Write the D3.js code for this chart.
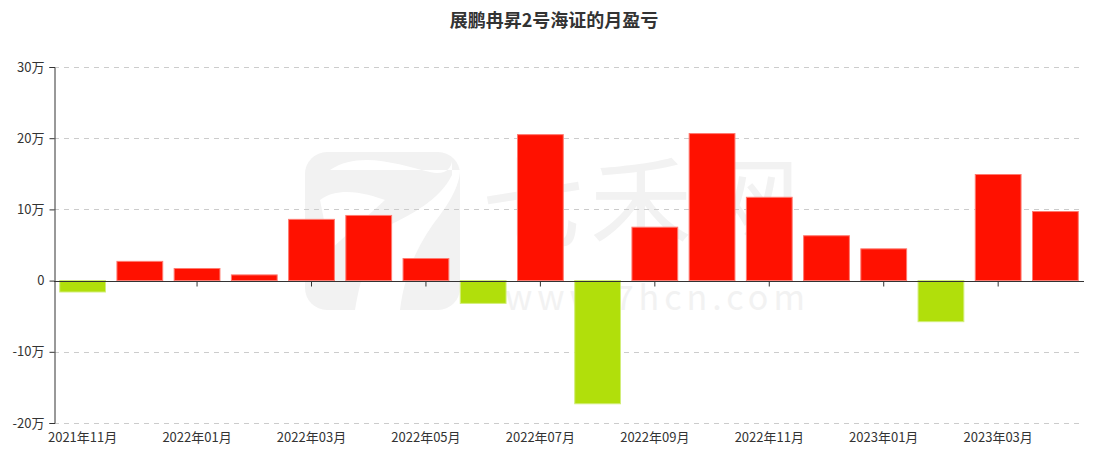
<!DOCTYPE html>
<html>
<head>
<meta charset="utf-8">
<script src="https://cdn.jsdelivr.net/npm/d3@7/dist/d3.min.js"></script>
<style>
  html, body { margin: 0; padding: 0; background: #fff; }
  svg { display: block; }
  text { font-family: "Noto Sans CJK SC", "Noto Sans", sans-serif; }
</style>
</head>
<body>
<svg id="chart" width="1097" height="455"></svg>
<script>
const title = "展鹏冉昇2号海证的月盈亏";
const months = ["2021年11月","2021年12月","2022年01月","2022年02月","2022年03月","2022年04月",
  "2022年05月","2022年06月","2022年07月","2022年08月","2022年09月","2022年10月",
  "2022年11月","2022年12月","2023年01月","2023年02月","2023年03月","2023年04月"];
const profit = [-16000, 27000, 17000, 8000, 86000, 91500, 31000, -32000, 205000, -173000,
  75000, 206500, 117000, 63000, 44600, -57700, 149000, 97000];
const yTicks = [-200000, -100000, 0, 100000, 200000, 300000];

const svg = d3.select("#chart");
const pLeft = 54, pRight = 1084, pTop = 67, pBottom = 423;

const x = d3.scaleBand().domain(months).range([pLeft, pRight]).paddingInner(0.2).paddingOuter(0.1);
const y = d3.scaleLinear().domain([-200000, 300000]).range([pBottom, pTop]);

// watermark
const wm = svg.append("g").attr("fill", "#f2f2f2");
wm.append("rect").attr("x", 305).attr("y", 152).attr("width", 155).attr("height", 158).attr("rx", 22);
wm.append("path").attr("fill", "#fff")
  .attr("d", "M330,170 C360,150 400,165 430,172 C445,176 452,168 452,160 L452,175 C440,200 410,215 390,225 C370,240 360,280 355,310 L400,310 C405,270 420,240 440,215 C455,195 460,180 460,170 Z M320,200 C340,185 370,195 385,200 L330,250 Z");
wm.append("text").attr("x", 482).attr("y", 242).attr("font-size", 102).attr("letter-spacing", 6).text("七禾网");
wm.append("text").attr("x", 505).attr("y", 310).attr("font-size", 34)
  .attr("font-family", "\"Liberation Sans\", sans-serif").attr("letter-spacing", 5).text("www.7hcn.com");

// gridlines
svg.append("g").selectAll("line").data(yTicks.filter(d => d !== 0)).join("line")
  .attr("x1", pLeft).attr("x2", pRight)
  .attr("y1", d => Math.round(y(d)) + 0.5).attr("y2", d => Math.round(y(d)) + 0.5)
  .attr("stroke", "#cccccc").attr("stroke-dasharray", "5,5");

// bars
svg.append("g").selectAll("rect").data(months).join("rect")
  .attr("x", (d) => x(d))
  .attr("width", x.bandwidth())
  .attr("y", (d, i) => y(Math.max(0, profit[i])))
  .attr("height", (d, i) => Math.abs(y(profit[i]) - y(0)))
  .attr("fill", (d, i) => profit[i] >= 0 ? "#ff1100" : "#b1df0b")
  .attr("stroke", (d, i) => profit[i] >= 0 ? "#ff7a70" : "#d2ee7a")
  .attr("stroke-width", 1);

// y axis
const yAxis = d3.axisLeft(y).tickValues(yTicks).tickSize(5).tickPadding(5)
  .tickFormat(d => d === 0 ? "0" : (d / 10000) + "万");
const ya = svg.append("g").attr("transform", `translate(${pLeft + 0.5},0)`).call(yAxis);
ya.select(".domain").attr("stroke", "#333");
ya.selectAll(".tick line").attr("stroke", "#333");
ya.selectAll(".tick text").attr("fill", "#333").attr("font-size", 13).attr("font-family", "\"Noto Sans CJK SC\", sans-serif");

// x axis at zero
const xAxis = d3.axisBottom(x).tickSize(5).tickPadding(3).tickFormat("").tickSizeOuter(0)
  .tickValues(months.filter((d, i) => i % 2 === 0));
const xa = svg.append("g").attr("transform", `translate(0,${Math.round(y(0)) + 0.5})`).call(xAxis);
xa.select(".domain").attr("stroke", "#333").attr("d", `M${pLeft},0H${pRight}`);
xa.selectAll(".tick line").attr("stroke", "#333");
xa.selectAll(".tick").filter(d => profit[months.indexOf(d)] < 0).remove();

// x labels at bottom
svg.append("g").selectAll("text").data(months.filter((d, i) => i % 2 === 0)).join("text")
  .attr("x", d => x(d) + x.bandwidth() / 2)
  .attr("y", 442)
  .attr("text-anchor", "middle")
  .attr("font-size", 13)
  .attr("fill", "#333")
  .text(d => d);

// title
svg.append("text").attr("x", 554).attr("y", 27).attr("text-anchor", "middle")
  .attr("font-size", 18).attr("font-weight", "bold").attr("fill", "#333").text(title);
</script>
</body>
</html>
